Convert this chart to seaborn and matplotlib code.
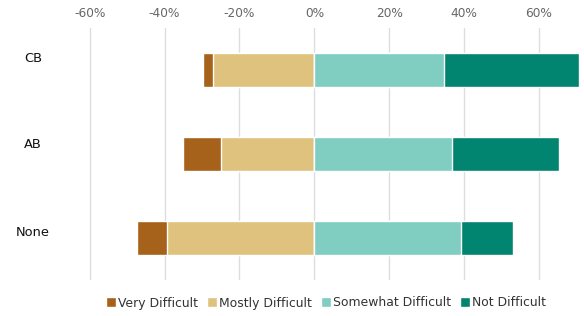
"""
Diverging stacked bar chart of difficulty ratings by group.
"""
import numpy as np
import pandas as pd
import seaborn as sns
import matplotlib.pyplot as plt
from matplotlib.patches import Patch
from matplotlib.ticker import FuncFormatter

groups = ["CB", "AB", "None"]
very_difficult = [2.7, 10.1, 8.0]
mostly_difficult = [27.1, 25.0, 39.4]
somewhat_difficult = [34.6, 36.8, 39.2]
not_difficult = [36.0, 28.6, 13.9]

labels = ["Very Difficult", "Mostly Difficult", "Somewhat Difficult", "Not Difficult"]
colors = ["#a6611a", "#dfc27d", "#80cdc1", "#018571"]

df = pd.DataFrame({
    "group": groups,
    "very": very_difficult,
    "mostly": mostly_difficult,
    "somewhat": somewhat_difficult,
    "not": not_difficult,
})
# cumulative extents, drawn largest first so the inner segment sits on top
df["neg_outer"] = -(df["very"] + df["mostly"])
df["neg_inner"] = -df["mostly"]
df["pos_outer"] = df["somewhat"] + df["not"]
df["pos_inner"] = df["somewhat"]

sns.set_theme(style="white")
plt.rcParams["font.family"] = ["DejaVu Sans"]

fig = plt.figure(figsize=(5.84, 3.16), dpi=100)
ax = fig.add_axes([70 / 584, 1 - 280 / 316, (578.5 - 70) / 584, 252 / 316])

for col, c in [("neg_outer", colors[0]), ("neg_inner", colors[1]),
               ("pos_outer", colors[3]), ("pos_inner", colors[2])]:
    sns.barplot(data=df, x=col, y="group", order=groups, orient="h",
                color=c, width=0.4, saturation=1, ax=ax, zorder=3)

ax.set_xlim(-65.25, 70.55)
ax.set_ylim(2.5, -0.5)
ax.set_xticks(np.arange(-60, 61, 20))
ax.xaxis.set_major_formatter(FuncFormatter(lambda v, _: f"{v:.0f}%"))
ax.xaxis.tick_top()
ax.tick_params(axis="x", length=0, pad=6, labelsize=8.7, labelcolor="#666666")
# category labels sit a little above the bar centres in the original
ax.set_yticks([-0.155, 0.87, 1.917], labels=groups)
ax.tick_params(axis="y", length=0, pad=26.6, labelsize=9.4, labelcolor="#111111")
for t in ax.get_yticklabels():
    t.set_horizontalalignment("center")
ax.grid(axis="x", color="#dddddd", linewidth=1, zorder=0)
ax.grid(axis="y", visible=False)
ax.set_axisbelow(True)
ax.set_xlabel("")
ax.set_ylabel("")
sns.despine(ax=ax, left=True, bottom=True, top=True, right=True)

handles = [Patch(facecolor=c, label=l) for c, l in zip(colors, labels)]
fig.legend(handles=handles, loc="center", bbox_to_anchor=(326 / 584, 1 - 303 / 316),
           ncol=4, frameon=False, fontsize=8.9, handlelength=0.8, handleheight=0.8,
           handletextpad=0.2, columnspacing=0.7, labelcolor="#333333")

fig.savefig("out.png", dpi=100)
